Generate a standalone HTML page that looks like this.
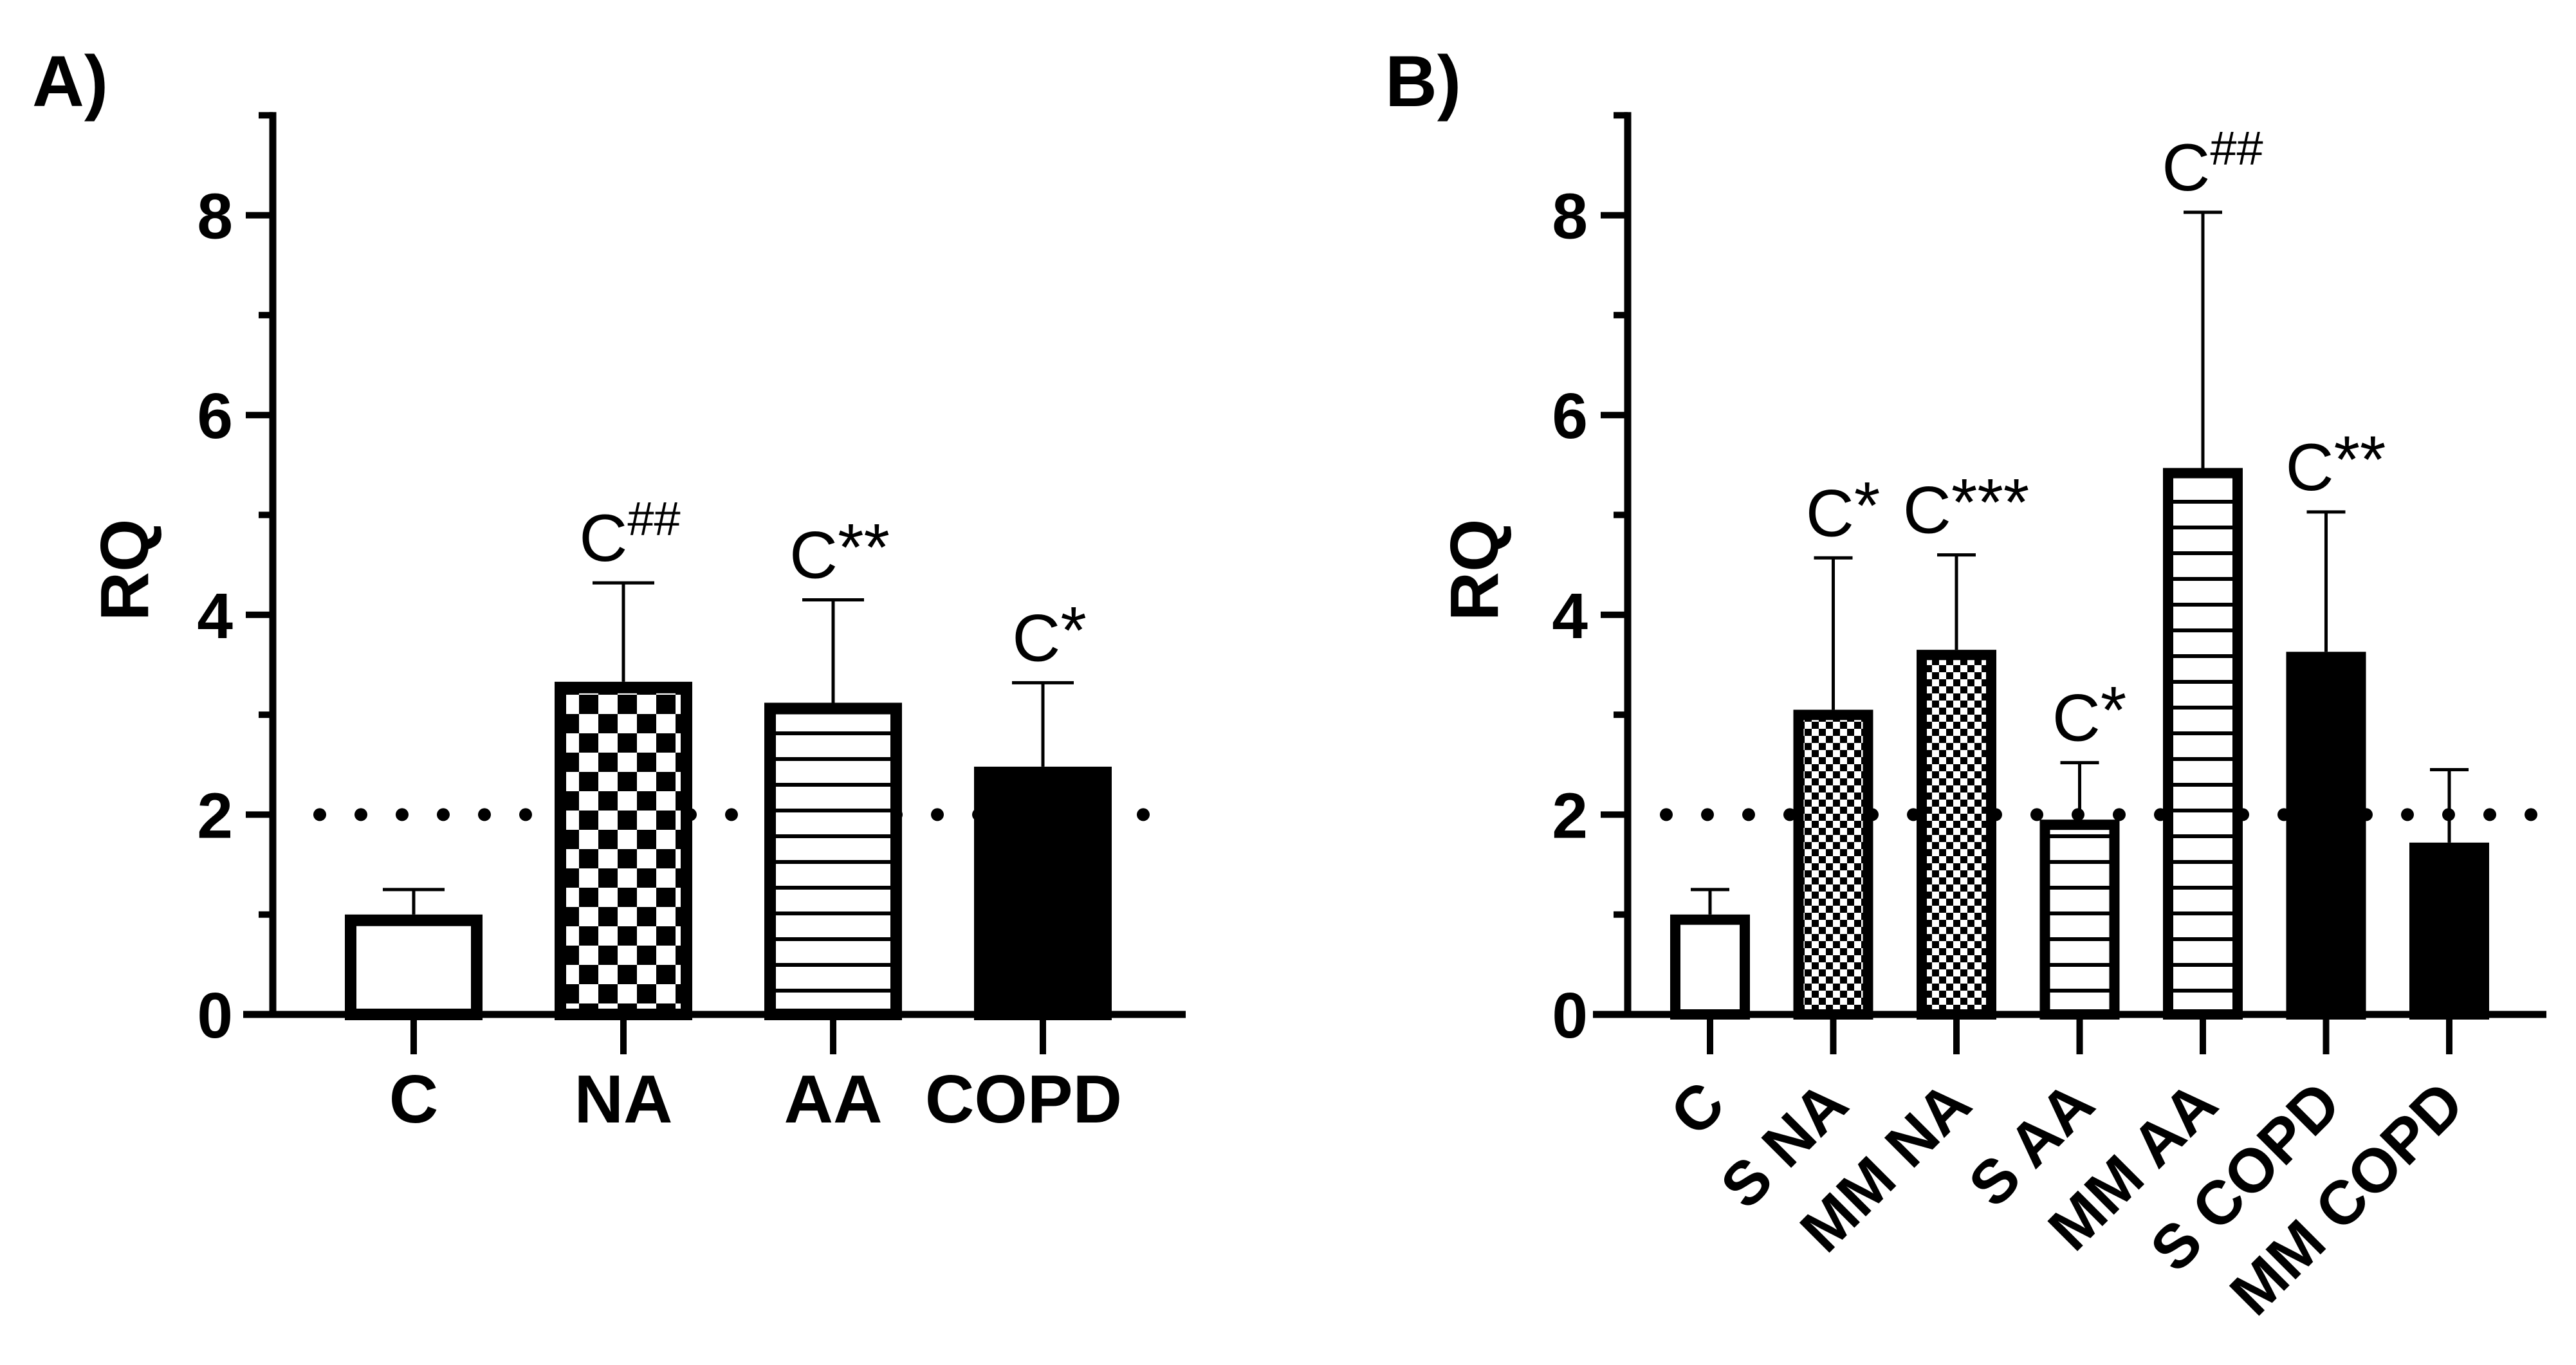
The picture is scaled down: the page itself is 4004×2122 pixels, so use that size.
<!DOCTYPE html>
<html><head><meta charset="utf-8"><style>html,body{margin:0;padding:0;background:#fff}svg{display:block}</style></head>
<body>
<svg id="fig" width="4004" height="2122" viewBox="0 0 4004 2122" xmlns="http://www.w3.org/2000/svg" font-family="Liberation Sans, Arial, sans-serif">
<defs>
<pattern id="chkA" width="60" height="60" patternUnits="userSpaceOnUse"><rect width="60" height="60" fill="#fff"/><rect width="30" height="30" fill="#000"/><rect x="30" y="30" width="30" height="30" fill="#000"/></pattern>
<pattern id="chkB" width="22" height="22" patternUnits="userSpaceOnUse"><rect width="22" height="22" fill="#fff"/><rect width="11" height="11" fill="#000"/><rect x="11" y="11" width="11" height="11" fill="#000"/></pattern>
<pattern id="hl" width="40" height="40" patternUnits="userSpaceOnUse"><rect width="40" height="40" fill="#fff"/><rect y="17" width="40" height="6" fill="#000"/></pattern>
</defs>
</svg>
<script>
const catsA = ['C','NA','AA','COPD'];
const meansA = [1.0, 3.33, 3.12, 2.48];
const errA = [1.25, 4.32, 4.15, 3.32];
const annA = ['', 'C##', 'C**', 'C*'];
const fillsA = ['#fff','url(#chkA)','url(#hl)','#000'];
const catsB = ['C','S NA','MM NA','S AA','MM AA','S COPD','MM COPD'];
const meansB = [1.0, 3.05, 3.65, 1.95, 5.47, 3.63, 1.72];
const errB = [1.25, 4.57, 4.6, 2.52, 8.03, 5.03, 2.45];
const annB = ['', 'C*', 'C***', 'C*', 'C##', 'C**', ''];
const fillsB = ['#fff','url(#chkB)','url(#chkB)','url(#hl)','url(#hl)','#000','#000'];
const yTicks = [0,2,4,6,8];
const refLine = 2;

const svg = document.getElementById('fig');
const NS = 'http://www.w3.org/2000/svg';
function mk(tag, attrs, parent){const e=document.createElementNS(NS,tag);for(const k in attrs)e.setAttribute(k,attrs[k]);(parent||svg).appendChild(e);return e;}

function panel(cfg){
  const g = mk('g',{});
  
  
  const y0=1577, unit=155.3, ymax=9;
  const Y = v => y0 - unit * v;
  const yTop = Y(ymax);
  const X = i => cfg.x0 + i * cfg.step;
  const L = mk('text',{x:cfg.letterX,y:165,'font-size':112,'font-weight':'bold'},g);
  L.textContent = cfg.letter;
  
  
  const dl = mk('line',{x1:cfg.dotX1,x2:cfg.dotX2,y1:Y(refLine),y2:Y(refLine),stroke:'#000','stroke-width':20,'stroke-linecap':'round','stroke-dasharray':'0 64'},g);
  
  
  cfg.cats.forEach((c,i)=>{
    const cx=X(i), w=cfg.bw, top=Y(cfg.means[i]), sw=cfg.sw;
    const eb = mk('g',{},g);
    
    
    mk('line',{x1:cx,x2:cx,y1:top,y2:Y(cfg.err[i]),stroke:'#000','stroke-width':5},eb);
    mk('line',{x1:cx-cfg.cap,x2:cx+cfg.cap,y1:Y(cfg.err[i]),y2:Y(cfg.err[i]),stroke:'#000','stroke-width':5},eb);
    const r = mk('rect',{x:cx-w/2+sw/2,y:top+sw/2,width:w-sw,height:Math.max(0,y0-top-sw/2),fill:cfg.fills[i],stroke:'#000','stroke-width':sw},g);
    
    
    if(cfg.ann[i]){
      const t = mk('text',{x:cx-cfg.annOff,y:Y(cfg.err[i])-34,'font-size':104,'text-anchor':'middle'},g);
      const a=cfg.ann[i];
      const base = document.createElementNS(NS,'tspan'); base.textContent='C'; t.appendChild(base);
      const sup = document.createElementNS(NS,'tspan');
      if(a.includes('#')){ sup.setAttribute('font-size',74); sup.setAttribute('dy',-40); }
      else { sup.setAttribute('font-size',104); sup.setAttribute('dy',-12); }
      sup.textContent=a.slice(1); t.appendChild(sup);
      
      
    }
    mk('line',{x1:cx,x2:cx,y1:y0,y2:y0+62,stroke:'#000','stroke-width':10},g);
    let lab;
    if(cfg.rot){
      const ax=cx+28, ay=1722;
      lab = mk('text',{x:ax,y:ay,'font-size':96,'font-weight':'bold','text-anchor':'end',transform:`rotate(-45 ${ax} ${ay})`},g);
    } else {
      const lx = cx - (c==='COPD'?30:0);
      lab = mk('text',{x:lx,y:1745,'font-size':106,'font-weight':'bold','text-anchor':'middle'},g);
    }
    lab.textContent=c;
    
    
  });
  const ax = mk('g',{},g);
  
  
  mk('line',{x1:cfg.yx,x2:cfg.yx,y1:yTop-5,y2:y0+5,stroke:'#000','stroke-width':11},ax);
  for(let v=0; v<=ymax; v++){
    const major = v%2===0;
    mk('line',{x1:cfg.yx-(major?42:22),x2:cfg.yx,y1:Y(v),y2:Y(v),stroke:'#000','stroke-width':10},ax);
  }
  yTicks.forEach(v=>{
    const t=mk('text',{x:cfg.yx-62,y:Y(v)+36,'font-size':100,'font-weight':'bold','text-anchor':'end'},ax);
    t.textContent=v;
    
    
  });
  const xa = mk('line',{x1:cfg.xaX1,x2:cfg.xaX2,y1:y0,y2:y0,stroke:'#000','stroke-width':11},g);
  
  
  const rq = mk('text',{x:cfg.rqX,y:886,'font-size':106,'font-weight':'bold','text-anchor':'middle',transform:`rotate(-90 ${cfg.rqX} 886)`},g);
  rq.textContent='RQ';
  
  
}

panel({name:'panel-a',letter:'A)',letterX:50,cats:catsA,means:meansA,err:errA,ann:annA,fills:fillsA,
  x0:643,step:326,bw:214,sw:18,cap:48,annOff:-10,yx:424,xaX1:378,xaX2:1843,dotX1:497,dotX2:1830,rqX:230,rot:false});
panel({name:'panel-b',letter:'B)',letterX:2153,cats:catsB,means:meansB,err:errB,ann:annB,fills:fillsB,
  x0:2658,step:191.5,bw:124,sw:16,cap:30,annOff:-15,yx:2530,xaX1:2476,xaX2:3958,dotX1:2590,dotX2:3935,rqX:2328,rot:true});
</script>
</body></html>
